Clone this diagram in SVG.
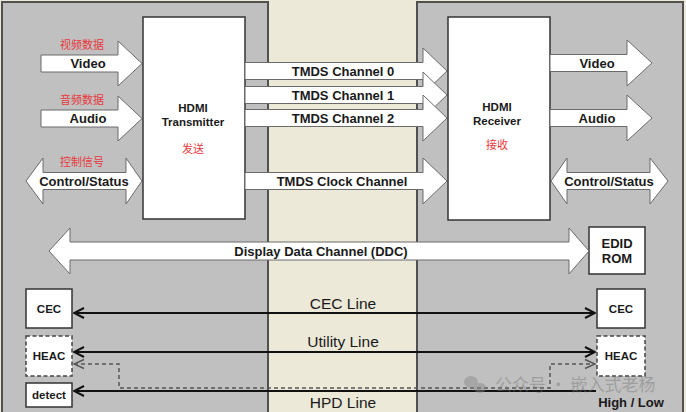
<svg xmlns="http://www.w3.org/2000/svg" width="686" height="412" viewBox="0 0 686 412">
<defs>
<style>
.panel{fill:#c0c0c0;stroke:#505050;stroke-width:2}
.box{fill:#fff;stroke:#333;stroke-width:1.5}
.dbox{fill:#fff;stroke:#444;stroke-width:1.5;stroke-dasharray:4 2.5}
.arr{fill:#fff;stroke:#6a6a6a;stroke-width:1}
.t{font-family:"Liberation Sans",Arial,sans-serif;font-weight:bold;font-size:13px;fill:#1a1a1a;text-anchor:middle}
.ts{font-family:"Liberation Sans",Arial,sans-serif;font-weight:bold;font-size:11.5px;fill:#1a1a1a;text-anchor:middle}
.tl{font-family:"Liberation Sans",Arial,sans-serif;font-size:15.5px;fill:#1a1a1a;text-anchor:middle}
.cn{font-family:"Noto Sans CJK SC",sans-serif;font-size:11px;fill:#e8383d;text-anchor:middle}
.line{stroke:#111;stroke-width:2;fill:none}
.dash{stroke:#555;stroke-width:1.5;fill:none;stroke-dasharray:4 3}
</style>
<marker id="ah" viewBox="0 0 12 12" refX="11" refY="6" markerWidth="12" markerHeight="12" markerUnits="userSpaceOnUse" orient="auto-start-reverse">
<polyline points="1,1 11,6 1,11" fill="none" stroke="#111" stroke-width="2"/>
</marker>
<marker id="ahd" viewBox="0 0 12 12" refX="11" refY="6" markerWidth="12" markerHeight="12" markerUnits="userSpaceOnUse" orient="auto-start-reverse">
<polyline points="1,1.5 11,6 1,10.5" fill="none" stroke="#555" stroke-width="1.5"/>
</marker>
</defs>
<rect x="0" y="0" width="686" height="412" fill="#ece9d8"/>
<g id="panels">
<rect class="panel" x="2" y="2" width="266" height="420"/>
<rect class="panel" x="417" y="2" width="266" height="420"/>
</g>
<g id="transmitter">
<rect class="box" x="143" y="17" width="102" height="202"/>
<text class="ts" x="193" y="112">HDMI</text>
<text class="ts" x="193" y="126">Transmitter</text>
<text class="cn" x="193" y="153">发送</text>
</g>
<g id="receiver">
<rect class="box" x="448" y="17" width="102" height="203"/>
<text class="ts" x="497" y="111">HDMI</text>
<text class="ts" x="497" y="125">Receiver</text>
<text class="cn" x="497" y="149">接收</text>
</g>
<g id="edid">
<rect class="box" x="589" y="227" width="56" height="47"/>
<text class="t" x="617" y="247.5">EDID</text>
<text class="t" x="617" y="262.5">ROM</text>
</g>
<g id="cec-left"><rect class="box" x="26" y="289" width="46" height="39"/><text class="ts" x="49" y="313">CEC</text></g>
<g id="heac-left"><rect class="dbox" x="26" y="336" width="46" height="40"/><text class="ts" x="49" y="360">HEAC</text></g>
<g id="detect"><rect class="box" x="26" y="383" width="46" height="24"/><text class="ts" x="49" y="399">detect</text></g>
<g id="cec-right"><rect class="box" x="597" y="289" width="48" height="39"/><text class="ts" x="621" y="313">CEC</text></g>
<g id="heac-right"><rect class="dbox" x="597" y="336" width="48" height="40"/><text class="ts" x="621" y="360">HEAC</text></g>
<g id="highlow"><text class="t" x="631" y="407">High / Low</text></g>
<g id="connectors">
<g id="video-in"><polygon class="arr" points="41,55 118,55 118,41 142,63.5 118,86 118,72 41,72"/><text class="t" x="88" y="68">Video</text><text class="cn" x="82" y="49">视频数据</text></g>
<g id="audio-in"><polygon class="arr" points="41,110 118,110 118,96 142,118.5 118,141 118,127 41,127"/><text class="t" x="88" y="123">Audio</text><text class="cn" x="82" y="104">音频数据</text></g>
<g id="ctrl-left"><polygon class="arr" points="26,181 43,158 43,172.5 126,172.5 126,158 142,181 126,204 126,189.5 43,189.5 43,204"/><text class="t" x="84" y="186">Control/Status</text><text class="cn" x="82" y="166">控制信号</text></g>
<g id="tmds0"><polygon class="arr" points="245,62.5 423,62.5 423,48 447,71 423,94 423,79.5 245,79.5"/><text class="t" x="343" y="76">TMDS Channel 0</text></g>
<g id="tmds1"><polygon class="arr" points="245,86.5 423,86.5 423,72 447,95 423,118 423,103.5 245,103.5"/><text class="t" x="343" y="100">TMDS Channel 1</text></g>
<g id="tmds2"><polygon class="arr" points="245,109.5 423,109.5 423,95 447,118 423,141 423,126.5 245,126.5"/><text class="t" x="343" y="122.5">TMDS Channel 2</text></g>
<g id="tmdsclk"><polygon class="arr" points="245,172.5 423,172.5 423,158 447,181 423,204 423,189.5 245,189.5"/><text class="t" x="342" y="186">TMDS Clock Channel</text></g>
<g id="video-out"><polygon class="arr" points="550,54.5 627,54.5 627,40 652,63 627,86 627,71.5 550,71.5"/><text class="t" x="597" y="68">Video</text></g>
<g id="audio-out"><polygon class="arr" points="550,109.5 627,109.5 627,95 652,118 627,141 627,126.5 550,126.5"/><text class="t" x="597" y="123">Audio</text></g>
<g id="ctrl-right"><polygon class="arr" points="551,181 567,158 567,172.5 650,172.5 650,158 668,181 650,204 650,189.5 567,189.5 567,204"/><text class="t" x="609" y="186">Control/Status</text></g>
<g id="ddc"><polygon class="arr" points="49,251 70,228 70,242 569,242 569,228 589,251 569,274 569,260 70,260 70,274"/><text class="t" x="321" y="256">Display Data Channel (DDC)</text></g>
<g id="cec-line"><line class="line" x1="74" y1="313" x2="595" y2="313" marker-start="url(#ah)" marker-end="url(#ah)"/><text class="tl" x="343" y="309">CEC Line</text></g>
<g id="utility-line"><line class="line" x1="74" y1="352" x2="595" y2="352" marker-start="url(#ah)" marker-end="url(#ah)"/><text class="tl" x="343" y="347">Utility Line</text></g>
<g id="heac-dash"><path class="dash" d="M74,364 H119 V388 H550 V364 H595" marker-start="url(#ahd)" marker-end="url(#ahd)"/></g>
<g id="hpd-line"><line class="line" x1="74" y1="391" x2="596" y2="391" marker-start="url(#ah)"/><text class="tl" x="343" y="408">HPD Line</text></g>
</g>
<g id="watermark" opacity="0.45">
<ellipse cx="471" cy="382" rx="7" ry="6" fill="#888"/>
<ellipse cx="480" cy="388" rx="6" ry="5" fill="#888"/>
<text x="495" y="391" font-family="Noto Sans CJK SC,sans-serif" font-size="17" fill="#777">公众号 · 嵌入式老杨</text>
</g>
</svg>
